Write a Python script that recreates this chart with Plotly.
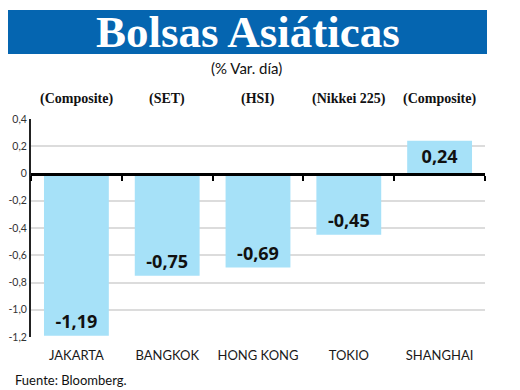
import plotly.graph_objects as go

# ---- data ----
categories = ["JAKARTA", "BANGKOK", "HONG KONG", "TOKIO", "SHANGHAI"]
index_names = ["(Composite)", "(SET)", "(HSI)", "(Nikkei 225)", "(Composite)"]
values = [-1.19, -0.75, -0.69, -0.45, 0.24]
y_ticks = [0.4, 0.2, 0, -0.2, -0.4, -0.6, -0.8, -1.0, -1.2]
y_tick_labels = ["0,4", "0,2", "0", "-0,2", "-0,4", "-0,6", "-0,8", "-1,0", "-1,2"]
title_text = "Bolsas Asiáticas"
subtitle_text = "(% Var. día)"
source_text = "Fuente: Bloomberg."

value_labels = [f"{v:.2f}".replace(".", ",") for v in values]

BAR = "#a6e1f8"
BLUE = "#0565b0"
SANS = "Lato, 'Open Sans', sans-serif"
SERIF = "'Liberation Serif', 'DejaVu Serif', serif"

fig = go.Figure()
fig.add_trace(go.Bar(
    x=categories, y=values, marker_color=BAR, marker_line_width=0,
    text=value_labels, textposition="inside", insidetextanchor="end",
    textangle=0,
    textfont=dict(family="'Open Sans', sans-serif", size=18, color="#111111", weight="bold"),
    hoverinfo="skip", showlegend=False,
))
# invisible trace to carry the zero-line axis
fig.add_trace(go.Scatter(x=[-0.5, 4.5], y=[0, 0], xaxis="x2", mode="lines",
                         line=dict(width=0), hoverinfo="skip", showlegend=False))

# page body adds an 8px offset, so the figure is 8px smaller than the window
fig.update_layout(
    width=512, height=382,
    margin=dict(l=23, r=35, t=111, b=53, autoexpand=False),
    paper_bgcolor="white", plot_bgcolor="white",
    bargap=0.286,
    xaxis=dict(type="category", showline=False, showgrid=False, zeroline=False,
               automargin=False, ticks="", ticklabelstandoff=9,
               tickfont=dict(family=SANS, size=13, color="#1a1a1a"),
               range=[-0.5, 4.5]),
    xaxis2=dict(overlaying="x", anchor="free", position=0.75, range=[-0.5, 4.5],
                automargin=False,
                showline=True, linecolor="black", linewidth=3,
                ticks="outside", ticklen=5, tickwidth=2, tickcolor="black",
                tickvals=[-0.5, 0.5, 1.5, 2.5, 3.5, 4.5], showticklabels=False,
                showgrid=False, zeroline=False),
    yaxis=dict(range=[-1.2, 0.4], tickvals=y_ticks, ticktext=y_tick_labels,
               automargin=False,
               showgrid=True, gridcolor="#dcdcdc", gridwidth=1.5,
               zeroline=False, showline=True, linecolor="#222222", linewidth=2,
               ticks="", ticklabelstandoff=0,
               tickfont=dict(family=SANS, size=10.5, color="#333333")),
)

# title banner
fig.add_shape(type="rect", xref="paper", yref="paper",
              xsizemode="pixel", ysizemode="pixel", xanchor=0, yanchor=1,
              x0=-25, x1=456, y0=65, y1=109,
              fillcolor=BLUE, line_width=0, layer="below")

fig.add_annotation(text=title_text, xref="paper", yref="paper",
                   x=0.477, y=1.399, xanchor="center", yanchor="middle", showarrow=False,
                   font=dict(family=SERIF, size=45, color="white", weight="bold"))
fig.add_annotation(text=subtitle_text, xref="paper", yref="paper",
                   x=0.475, y=1.234, xanchor="center", yanchor="middle", showarrow=False,
                   font=dict(family=SANS, size=15, color="#111111"))
for cat, name in zip(categories, index_names):
    fig.add_annotation(text=name, xref="x", yref="paper", x=cat, y=1.092,
                       xanchor="center", yanchor="middle", showarrow=False,
                       font=dict(family=SERIF, size=14, color="#111111", weight="bold"))
fig.add_annotation(text=source_text, xref="paper", yref="paper",
                   x=-0.04, y=-0.197, xanchor="left", yanchor="middle", showarrow=False,
                   font=dict(family=SANS, size=13, color="#111111"))

fig.write_html("out.html")
